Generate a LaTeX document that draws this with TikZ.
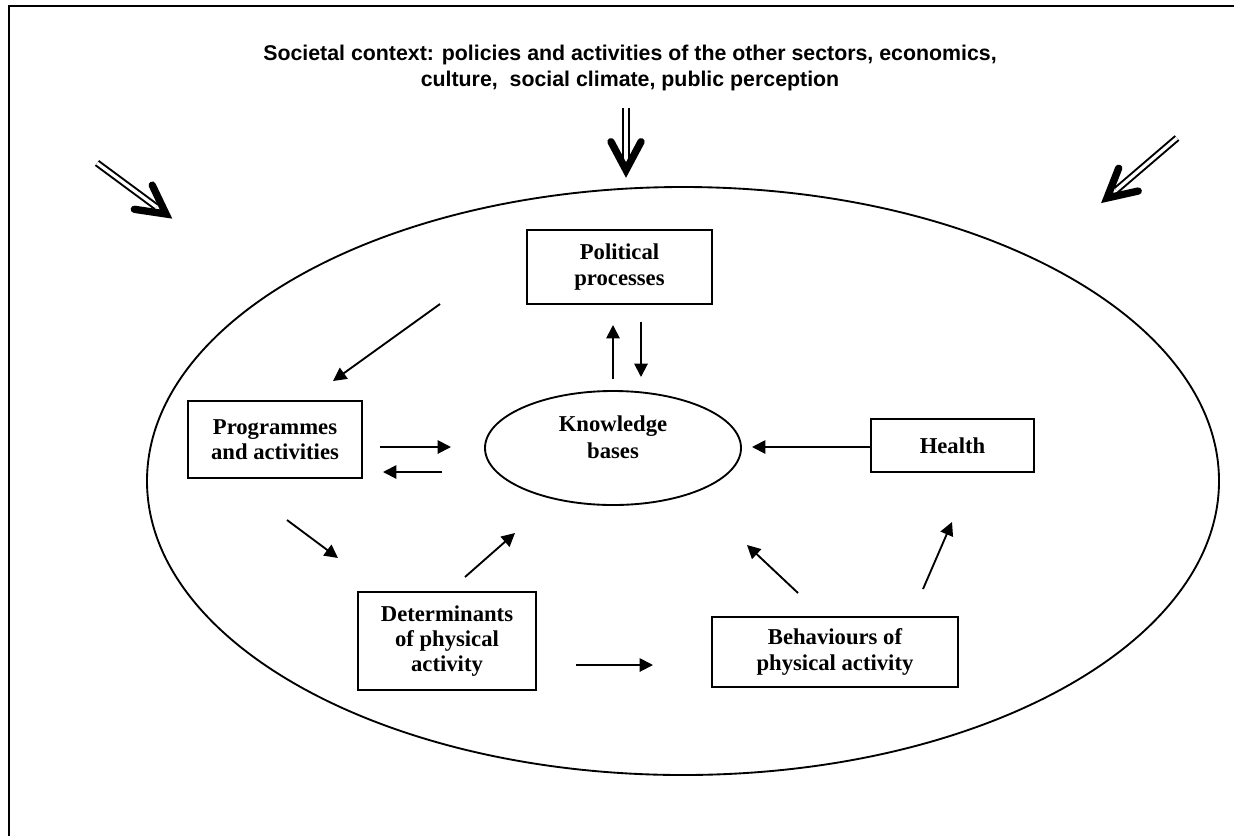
\documentclass[tikz,border=0pt]{standalone}
\usepackage{fontspec}
\setmainfont{Liberation Serif}
\setsansfont{Liberation Sans}
\usetikzlibrary{arrows.meta,shapes.geometric,calc}

\tikzset{
  px/.style={x=0.75pt,y=-0.75pt},
  box/.style={draw,line width=1.6pt,align=center,inner sep=2pt,
    font=\fontsize{17}{19}\selectfont\bfseries},
  kb/.style={draw,ellipse,line width=1.4pt,align=center,inner sep=0pt,
    font=\fontsize{17}{20}\selectfont\bfseries},
  link/.style={line width=1.4pt,-{Triangle[length=10pt,width=10pt]}},
  dshaft/.style={double,double distance=2.4pt,line width=1.5pt},
  dhead/.style={line width=5.5pt,line cap=round,line join=miter,miter limit=10},
  title/.style={align=center,font=\sffamily\bfseries\fontsize{16}{20}\selectfont}
}

\begin{document}
\begin{tikzpicture}[px]
\useasboundingbox (0,0) rectangle (1234,836);

% page frame, running off the right and bottom edges
\draw[line width=2.2pt] (9,836) -- (9,6) -- (1234,6);

% societal context
\node[title] (ctx) at (630,68) {Societal context: policies and activities of the other sectors, economics,\\
culture,\ \ social climate, public perception};

% outer ellipse
\node[draw,ellipse,line width=1.4pt,minimum width=804pt,minimum height=441pt,inner sep=0pt] (sys) at (683,481) {};

% boxes
\node[box,minimum width=138.75pt,minimum height=55.5pt] (pol) at (619.5,267) {Political\\processes};
\node[box,minimum width=130.5pt,minimum height=57.75pt] (prog) at (275,439.5) {Programmes\\and activities};
\node[box,minimum width=122.25pt,minimum height=39.75pt] (health) at (952.5,445.5) {Health};
\node[box,minimum width=133.5pt,minimum height=73.5pt] (det) at (447,641) {Determinants\\of physical\\activity};
\node[box,minimum width=184.5pt,minimum height=52.5pt] (beh) at (835,652) {Behaviours of\\physical activity};
\node[kb,minimum width=192pt,minimum height=85.5pt] (kb) at (613,448) {Knowledge\\bases\\[-4pt]};

% arrow end points
\coordinate (polprogS) at (440,304);  \coordinate (polprogE) at (333,381);
\coordinate (kbpolS) at (613,379);    \coordinate (kbpolE) at (613,325);
\coordinate (polkbS) at (641,322);    \coordinate (polkbE) at (641,377);
\coordinate (progkbS) at (380,447);   \coordinate (progkbE) at (451,447);
\coordinate (kbprogS) at (442,472);   \coordinate (kbprogE) at (383,472);
\coordinate (healthkbS) at (870,447); \coordinate (healthkbE) at (752,447);
\coordinate (progdetS) at (287,520);  \coordinate (progdetE) at (338,558);
\coordinate (detkbS) at (465,577);    \coordinate (detkbE) at (515,533);
\coordinate (detbehS) at (576,665);   \coordinate (detbehE) at (653,665);
\coordinate (behkbS) at (798,593);    \coordinate (behkbE) at (747,545);
\coordinate (behhealthS) at (923,589);\coordinate (behhealthE) at (952,522);

\draw[link] (polprogS) -- (polprogE);
\draw[link] (kbpolS) -- (kbpolE);
\draw[link] (polkbS) -- (polkbE);
\draw[link] (progkbS) -- (progkbE);
\draw[link] (kbprogS) -- (kbprogE);
\draw[link] (healthkbS) -- (healthkbE);
\draw[link] (progdetS) -- (progdetE);
\draw[link] (detkbS) -- (detkbE);
\draw[link] (detbehS) -- (detbehE);
\draw[link] (behkbS) -- (behkbE);
\draw[link] (behhealthS) -- (behhealthE);

% outside influences: double-shafted arrows
\coordinate (inTopS) at (626,108);  \coordinate (inTopT) at (626,170);
\coordinate (inLeftS) at (97,163);  \coordinate (inLeftT) at (166,214);
\coordinate (inRightS) at (1177,138); \coordinate (inRightT) at (1107,198);
\foreach \s/\t in {inTopS/inTopT,inLeftS/inLeftT,inRightS/inRightT}{
  \draw[dshaft] (\s) -- ($(\t)!9pt!(\s)$);
  \draw[dhead] ($(\t)!24pt!28:(\s)$) -- (\t) -- ($(\t)!24pt!-28:(\s)$);
}
\end{tikzpicture}
\end{document}
